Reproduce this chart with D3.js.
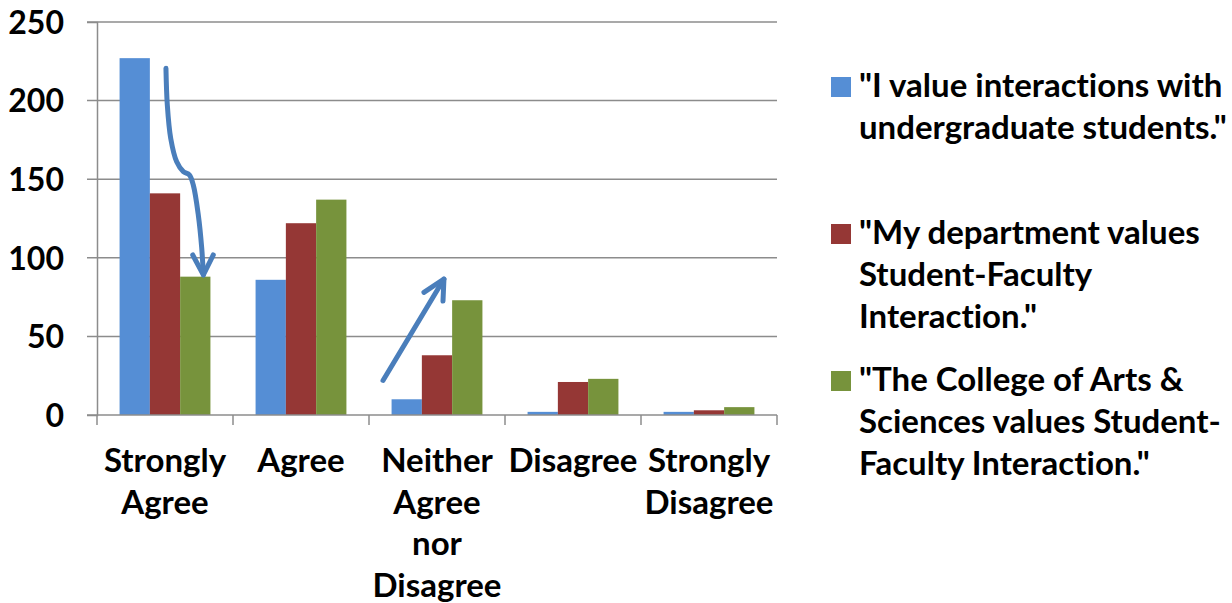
<!DOCTYPE html>
<html>
<head>
<meta charset="utf-8">
<script src="https://cdn.jsdelivr.net/npm/d3@7"></script>
<style>
  body { margin: 0; background: #fff; }
  text { font-family: Lato, "Open Sans", sans-serif; font-weight: bold; fill: #000; font-variant-ligatures: none; }
</style>
</head>
<body>
<svg id="chart" width="1232" height="603"></svg>
<script>
// survey answers (counts)
const categories = [["Strongly", "Agree"], ["Agree"], ["Neither", "Agree", "nor", "Disagree"], ["Disagree"], ["Strongly", "Disagree"]];
const seriesNames = [
    ['"I value interactions with', 'undergraduate students."'],
    ['"My department values', 'Student-Faculty', 'Interaction."'],
    ['"The College of Arts &', 'Sciences values Student-', 'Faculty Interaction."']
];
const valuesIndividual = [227, 86, 10, 2, 2];
const valuesDepartment = [141, 122, 38, 21, 3];
const valuesCollege = [88, 137, 73, 23, 5];
const yTicks = [0, 50, 100, 150, 200, 250];
const colors = ["#558ed5", "#953735", "#77933c"];

// annotation arrows, in (category index, value) space
const arrowDown = [[0.507, 220.5], [0.517, 197.2], [0.542, 176], [0.586, 161.1], [0.635, 154.8],
    [0.679, 152.7], [0.708, 146.3], [0.745, 127.2], [0.770, 106.2], [0.782, 89.1]];
const arrowDownHead = [[0.704, 101.8], [0.782, 89.1], [0.855, 101.8]];
const arrowUp = [[2.103, 22], [2.551, 86.5]];
const arrowUpHead = [[2.404, 78], [2.551, 86.5], [2.544, 72.5]];

const series = [valuesIndividual, valuesDepartment, valuesCollege];

const svg = d3.select("#chart"),
    plotLeft = 97, plotRight = 777, plotTop = 22, plotBottom = 415;

const x0 = d3.scaleBand()
    .domain(d3.range(categories.length))
    .range([plotLeft, plotRight]);
const x1 = d3.scaleBand()
    .domain(d3.range(series.length))
    .range([x0.bandwidth() * 0.166, x0.bandwidth() * 0.834]);
const y = d3.scaleLinear()
    .domain([0, 250])
    .range([plotBottom, plotTop]);
const xi = d3.scaleLinear()
    .domain([0, categories.length])
    .range([plotLeft, plotRight]);

svg.append("rect").attr("width", 1232).attr("height", 603).attr("fill", "#fff");

// gridlines + y axis
const yAxis = svg.append("g")
    .attr("transform", "translate(" + plotLeft + ",0)")
    .call(d3.axisLeft(y).tickValues(yTicks).tickSize(10).tickPadding(23).tickFormat(d3.format("d")));
yAxis.attr("font-family", null).attr("font-size", null);
yAxis.select(".domain").attr("stroke", "#8c8c8c").attr("stroke-width", 1.5);
yAxis.selectAll(".tick line").remove();
yAxis.selectAll(".tick text").style("font-size", "32px").attr("dy", "0.35em");

svg.append("g").selectAll("line")
    .data(yTicks.filter(d => d > 0))
    .enter().append("line")
    .attr("x1", plotLeft - 10).attr("x2", plotRight)
    .attr("y1", d => y(d)).attr("y2", d => y(d))
    .attr("stroke", "#8c8c8c").attr("stroke-width", 1.5);

// bars
const groups = svg.append("g").selectAll("g")
    .data(categories)
    .enter().append("g")
    .attr("transform", (d, i) => "translate(" + x0(i) + ",0)");

groups.selectAll("rect")
    .data((d, i) => series.map((s, j) => ({s: j, v: s[i]})))
    .enter().append("rect")
    .attr("x", d => x1(d.s))
    .attr("width", x1.bandwidth())
    .attr("y", d => y(d.v))
    .attr("height", d => y(0) - y(d.v))
    .attr("fill", d => colors[d.s]);

// x axis
const xAxis = svg.append("g")
    .attr("transform", "translate(0," + plotBottom + ")");
xAxis.append("line")
    .attr("x1", plotLeft - 10).attr("x2", plotRight)
    .attr("stroke", "#8c8c8c").attr("stroke-width", 1.5);
xAxis.selectAll("line.tick")
    .data(d3.range(categories.length + 1))
    .enter().append("line")
    .attr("class", "tick")
    .attr("x1", d => xi(d)).attr("x2", d => xi(d))
    .attr("y1", 0).attr("y2", 10)
    .attr("stroke", "#8c8c8c").attr("stroke-width", 1.5);

const labels = xAxis.selectAll("text")
    .data(categories)
    .enter().append("text")
    .attr("text-anchor", "middle")
    .attr("x", (d, i) => x0(i) + x0.bandwidth() / 2)
    .style("font-size", "33px");
labels.selectAll("tspan")
    .data(d => d)
    .enter().append("tspan")
    .attr("x", function () { return this.parentNode.getAttribute("x"); })
    .attr("y", (d, i) => 57 + i * 41.5)
    .text(d => d);

// arrows
const line = d3.line().x(d => xi(d[0])).y(d => y(d[1]));
const curve = d3.line().x(d => xi(d[0])).y(d => y(d[1])).curve(d3.curveCatmullRom);
const arrows = svg.append("g")
    .attr("fill", "none")
    .attr("stroke", "#4a7ebb")
    .attr("stroke-width", 5)
    .attr("stroke-linecap", "round")
    .attr("stroke-linejoin", "round");
arrows.append("path").attr("d", curve(arrowDown));
arrows.append("path").attr("d", line(arrowDownHead));
arrows.append("path").attr("d", line(arrowUp));
arrows.append("path").attr("d", line(arrowUpHead));

// legend
const legendTop = [77, 224, 371];
const legend = svg.append("g").selectAll("g")
    .data(seriesNames)
    .enter().append("g")
    .attr("transform", (d, i) => "translate(831," + legendTop[i] + ")");
legend.append("rect")
    .attr("width", 20).attr("height", 20)
    .attr("fill", (d, i) => colors[i]);
const ltext = legend.append("text").style("font-size", "33px");
ltext.selectAll("tspan")
    .data(d => d)
    .enter().append("tspan")
    .attr("x", 28)
    .attr("y", (d, i) => 20 + i * 42)
    .text(d => d);
</script>
</body>
</html>
